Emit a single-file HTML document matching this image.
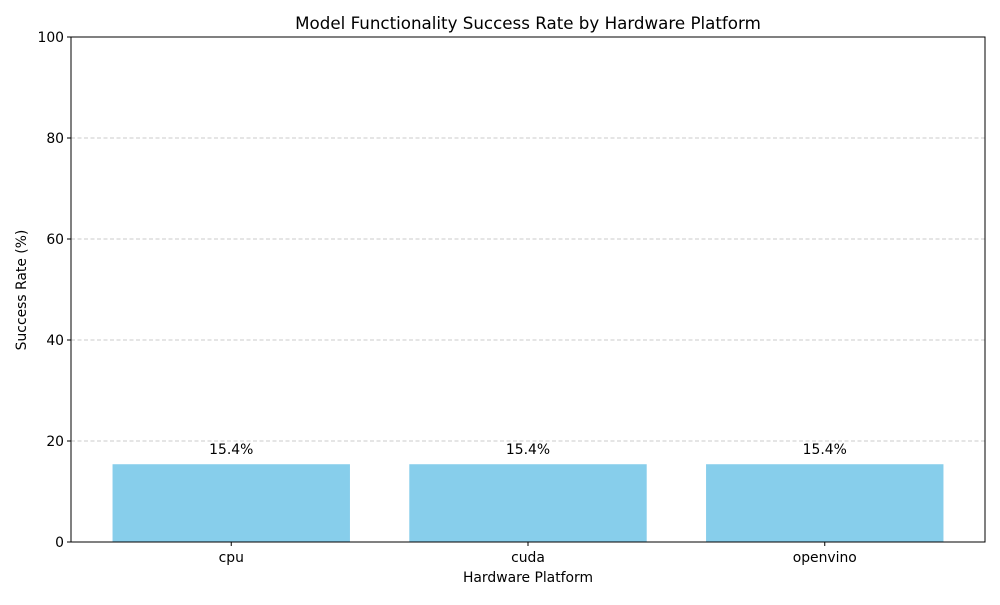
<!DOCTYPE html>
<html><head><meta charset="utf-8"><style>
body{margin:0;background:#fff;}
svg text{font-family:"DejaVu Sans","Liberation Sans",sans-serif;fill:#000;}
</style></head><body>
<svg id="chart" width="1000" height="600" xmlns="http://www.w3.org/2000/svg">
<rect width="1000" height="600" fill="#fff"/>
<text x="528" y="29" font-size="16.7" text-anchor="middle">Model Functionality Success Rate by Hardware Platform</text>
<g id="grid"></g>
<g id="bars"></g>
<g id="yticks"></g>
<g id="xticks"></g>
<rect x="71" y="37" width="914" height="505" fill="none" stroke="#000" stroke-width="1"/>
<text x="528" y="582" font-size="13.9" text-anchor="middle">Hardware Platform</text>
<text transform="translate(26,290) rotate(-90)" font-size="13.9" text-anchor="middle">Success Rate (%)</text>
</svg>
<script>
const categories = ["cpu","cuda","openvino"];
const values = [15.4,15.4,15.4];
const valueLabels = ["15.4%","15.4%","15.4%"];
const yTicks = [0,20,40,60,80,100];

const NS="http://www.w3.org/2000/svg";
const L=71,R=985,T=37,B=542;
const xMin=-0.54,xMax=2.54;
function xs(v){return L+(v-xMin)/(xMax-xMin)*(R-L);}
function ys(v){return B-v/100*(B-T);}
function mk(tag,attrs,parent){const e=document.createElementNS(NS,tag);for(const k in attrs)e.setAttribute(k,attrs[k]);parent.appendChild(e);return e;}
const grid=document.getElementById('grid'),bars=document.getElementById('bars'),yt=document.getElementById('yticks'),xt=document.getElementById('xticks');
yTicks.forEach(t=>{
  const y=ys(t);
  if(t>0&&t<100){
    const g=mk('line',{x1:L,x2:R,y1:y,y2:y,stroke:'#bbbbbb','stroke-dasharray':'4,2.5','stroke-width':0.8},grid);
    
    
  }
  const tk=mk('line',{x1:L-4,x2:L,y1:y,y2:y,stroke:'#000'},yt);
  
  
  const tx=mk('text',{x:L-7,y:y+5,'font-size':13.9,'text-anchor':'end'},yt);
  tx.textContent=t;
  
  
});
categories.forEach((c,i)=>{
  const x0=xs(i-0.4),x1=xs(i+0.4),y=ys(values[i]);
  const r=mk('rect',{x:x0,y:y,width:x1-x0,height:B-y,fill:'#87ceeb'},bars);
  
  
  const lb=mk('text',{x:xs(i),y:y-10,'font-size':13.9,'text-anchor':'middle'},bars);
  lb.textContent=valueLabels[i];
  
  
  const tk=mk('line',{x1:xs(i),x2:xs(i),y1:B,y2:B+4,stroke:'#000'},xt);
  
  
  const tx=mk('text',{x:xs(i),y:B+20,'font-size':13.9,'text-anchor':'middle'},xt);
  tx.textContent=c;
  
  
});
</script>
</body></html>
